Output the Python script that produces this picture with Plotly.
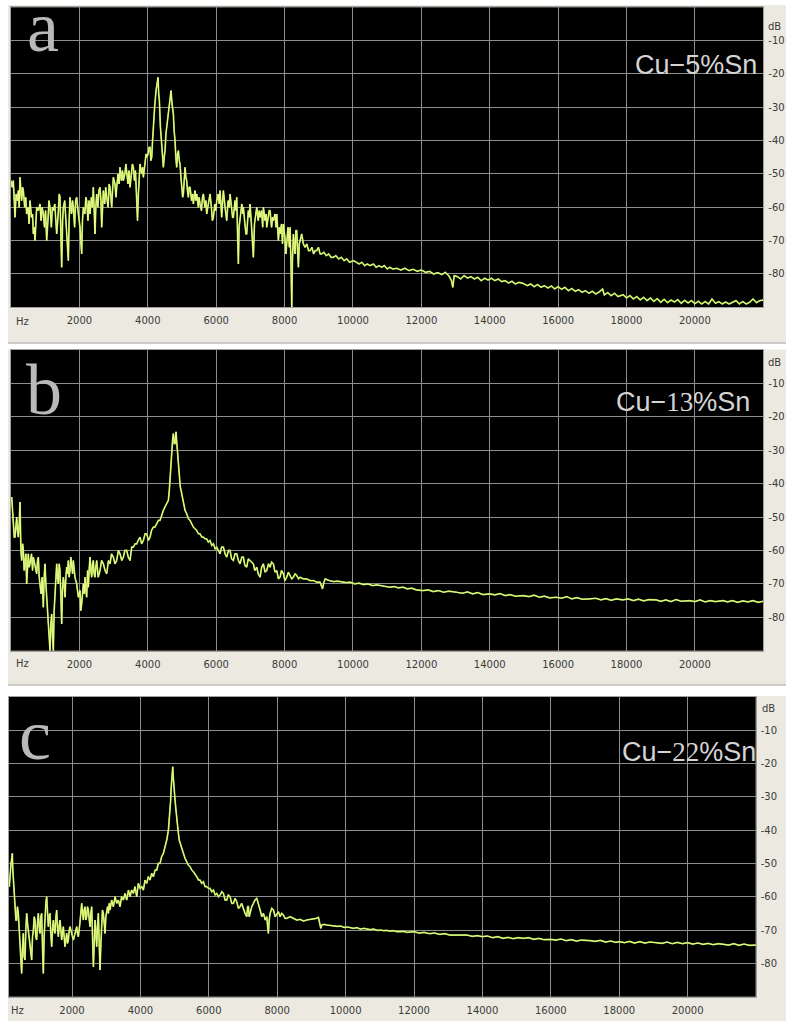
import plotly.graph_objects as go

# ---------------- data ----------------
# (frequency Hz, level dB) pairs for each spectrum
spec_a = [
(0,-52),(35,-54),(68,-52),(95,-57),(117,-63),(150,-56),(190,-58),(215,-55),(240,-60),(263,-51),
(290,-56),(312,-58),(340,-54),(361,-55),(400,-60),(430,-57),(458,-62),(500,-60),(530,-65),(556,-58),
(600,-63),(630,-62),(653,-68),(680,-66),(702,-70),(730,-63),(751,-60),(800,-61),(848,-59),(880,-64),
(910,-60),(946,-62),(980,-66),(1010,-61),(1043,-70),(1080,-64),(1110,-58),(1141,-60),(1180,-66),(1210,-60),
(1238,-61),(1280,-59),(1310,-64),(1336,-68),(1380,-62),(1410,-56),(1433,-57),(1460,-66),(1482,-78),(1510,-64),
(1531,-60),(1570,-58),(1600,-63),(1628,-68),(1650,-72),(1677,-76),(1700,-64),(1726,-57),(1770,-62),(1800,-58),
(1823,-60),(1860,-66),(1890,-58),(1921,-57),(1960,-61),(1990,-63),(2018,-66),(2040,-70),(2067,-74),(2090,-64),
(2116,-60),(2160,-62),(2190,-57),(2213,-58),(2250,-64),(2280,-58),(2311,-62),(2350,-57),(2380,-60),(2408,-54),
(2430,-62),(2457,-68),(2480,-60),(2506,-56),(2540,-60),(2570,-55),(2603,-54),(2630,-58),(2652,-66),(2680,-58),
(2701,-55),(2740,-59),(2770,-54),(2798,-57),(2840,-60),(2870,-53),(2896,-54),(2920,-57),(2945,-60),(2970,-55),
(2993,-51),(3040,-53),(3070,-57),(3091,-54),(3130,-50),(3160,-53),(3188,-48),(3230,-52),(3260,-49),(3286,-52),
(3330,-50),(3360,-47),(3383,-49),(3420,-53),(3450,-49),(3481,-54),(3520,-50),(3550,-47),(3578,-48),(3610,-52),
(3640,-49),(3676,-58),(3700,-64),(3725,-56),(3750,-49),(3773,-47),(3820,-50),(3850,-48),(3871,-51),(3920,-47),
(3950,-44),(3968,-45),(4010,-44),(4040,-42),(4066,-42),(4090,-46),(4115,-45),(4140,-40),(4163,-35),(4200,-30),
(4241,-25),(4270,-23),(4300,-21),(4320,-26),(4339,-28),(4370,-36),(4407,-42),(4430,-47),(4456,-48),(4480,-45),
(4505,-43),(4530,-38),(4553,-36),(4590,-33),(4631,-31),(4660,-27),(4680,-25),(4710,-29),(4748,-32),(4770,-37),
(4797,-40),(4820,-45),(4846,-48),(4870,-44),(4895,-43),(4920,-46),(4943,-47),(4970,-51),(4992,-54),(5020,-57),
(5041,-56),(5070,-50),(5090,-48),(5115,-51),(5138,-52),(5160,-55),(5187,-57),(5210,-54),(5236,-54),(5280,-58),
(5310,-56),(5333,-59),(5380,-55),(5410,-58),(5431,-56),(5480,-60),(5500,-57),(5528,-59),(5570,-61),(5600,-57),
(5626,-56),(5670,-60),(5700,-58),(5723,-62),(5770,-59),(5800,-57),(5821,-56),(5860,-60),(5890,-64),(5918,-63),
(5960,-59),(5990,-61),(6016,-58),(6060,-56),(6090,-59),(6113,-55),(6140,-60),(6162,-63),(6190,-58),(6211,-55),
(6260,-60),(6290,-62),(6308,-64),(6350,-58),(6380,-60),(6406,-56),(6450,-61),(6480,-63),(6503,-63),(6550,-58),
(6580,-61),(6601,-57),(6630,-70),(6650,-77),(6670,-66),(6698,-63),(6750,-59),(6780,-62),(6796,-60),(6840,-65),
(6870,-68),(6893,-68),(6940,-61),(6970,-63),(6991,-59),(7030,-65),(7060,-72),(7088,-75),(7120,-65),(7160,-61),
(7186,-60),(7230,-64),(7260,-61),(7283,-63),(7330,-61),(7360,-66),(7381,-60),(7430,-64),(7460,-62),(7478,-66),
(7520,-63),(7550,-61),(7576,-61),(7620,-66),(7650,-63),(7673,-64),(7720,-62),(7750,-66),(7771,-62),(7820,-70),
(7850,-66),(7868,-68),(7910,-65),(7940,-71),(7966,-65),(8010,-69),(8040,-74),(8063,-70),(8100,-66),(8140,-72),
(8161,-66),(8190,-78),(8210,-90),(8230,-76),(8258,-68),(8280,-71),(8307,-74),(8330,-67),(8356,-67),(8380,-73),
(8405,-78),(8430,-71),(8453,-70),(8480,-69),(8502,-68),(8550,-71),(8600,-72),(8650,-71),(8700,-73),(8746,-73),
(8800,-72),(8850,-74),(8892,-73),(8940,-73),(8990,-72),(9040,-74),(9087,-74),(9150,-73.5),(9220,-74.5),(9290,-74),
(9360,-75),(9428,-75),(9500,-74.5),(9580,-75.5),(9660,-75),(9740,-76),(9820,-75.5),(9900,-76.5),(10013,-76),(10100,-76.5),
(10180,-77),(10260,-76.5),(10340,-77.5),(10420,-77),(10500,-77.5),(10598,-77),(10680,-78),(10760,-77.5),(10840,-78),(10920,-77.5),
(11000,-78.5),(11080,-78),(11160,-78.5),(11281,-78.3),(11400,-78.8),(11520,-78.3),(11640,-79),(11760,-78.6),(11880,-79.2),(12000,-78.8),
(12120,-79.5),(12240,-79.2),(12360,-80),(12480,-79.6),(12600,-80.2),(12700,-79.5),(12800,-80.5),(12880,-82),(12920,-84),(12960,-80.5),
(13050,-80.8),(13150,-81.5),(13250,-80.5),(13350,-81.2),(13450,-80.8),(13550,-81.5),(13650,-81),(13750,-82),(13850,-81.3),(13950,-81.8),
(14050,-81.3),(14150,-82),(14250,-81.5),(14350,-82.3),(14450,-82),(14550,-82.7),(14650,-82.2),(14750,-83),(14850,-82.5),(14970,-82.8),
(15100,-83.5),(15200,-83),(15300,-83.8),(15400,-83.2),(15500,-84),(15600,-83.5),(15700,-84.2),(15800,-83.6),(15900,-84.5),(16000,-83.8),
(16100,-84.6),(16200,-84),(16300,-85),(16400,-84.4),(16500,-85.2),(16600,-84.7),(16700,-85.5),(16800,-85),(16900,-85.8),(17000,-85.2),
(17100,-86),(17200,-85.4),(17300,-84.5),(17350,-86.3),(17450,-85.6),(17550,-86.5),(17650,-85.8),(17750,-86.8),(17900,-86.2),(18000,-87.2),
(18100,-86.5),(18200,-87.5),(18300,-86.8),(18400,-87.8),(18500,-87),(18600,-88),(18700,-87.2),(18800,-88.2),(18900,-87.4),(19000,-88.5),
(19100,-87.6),(19200,-88.6),(19300,-87.8),(19400,-88.4),(19500,-87.7),(19600,-88.8),(19700,-87.9),(19800,-88.7),(19900,-88),(20000,-88.9),
(20100,-88.2),(20200,-89),(20300,-88.3),(20400,-89),(20500,-87.5),(20600,-88.8),(20700,-88.3),(20800,-89),(20900,-88.4),(21000,-89),
(21100,-88.5),(21200,-88),(21300,-89),(21400,-88.3),(21500,-89),(21600,-88.5),(21700,-87.5),(21800,-88.6),(21900,-88),(22000,-87.8),
]

spec_b = [
(20,-44),(45,-49),(68,-50),(95,-56),(117,-56),(140,-52),(166,-50),(190,-54),(215,-56),(240,-52),
(263,-45.5),(290,-60),(312,-63),(340,-58),(361,-60),(385,-66),(410,-64),(435,-61),(458,-70),(480,-66),
(507,-61),(530,-65),(556,-64),(600,-61),(630,-66),(653,-62),(700,-65),(751,-67),(775,-63),(800,-62),
(825,-68),(848,-70),(880,-73),(910,-68),(946,-77),(970,-68),(995,-64),(1020,-70),(1043,-74),(1070,-80),
(1092,-84),(1115,-88),(1141,-90),(1165,-82),(1190,-79),(1215,-86),(1238,-90),(1262,-78),(1287,-72),(1310,-66),
(1336,-64),(1360,-68),(1385,-70),(1410,-64),(1433,-66),(1460,-74),(1482,-82),(1505,-72),(1531,-68),(1555,-70),
(1580,-74),(1605,-68),(1628,-65),(1650,-67),(1677,-63),(1700,-68),(1726,-66),(1750,-62),(1775,-64),(1800,-67),
(1823,-63),(1870,-68),(1921,-70),(1970,-74),(2018,-72),(2040,-78),(2067,-76),(2090,-72),(2116,-70),(2140,-73),
(2165,-68),(2190,-72),(2213,-74),(2240,-66),(2262,-71),(2290,-65),(2311,-62),(2335,-66),(2360,-68),(2385,-64),
(2408,-63),(2430,-67),(2457,-68),(2480,-65),(2506,-63),(2550,-68),(2603,-66),(2650,-63),(2701,-64),(2750,-66),
(2798,-67),(2850,-63),(2896,-64),(2940,-61),(2993,-62),(3040,-64),(3091,-63),(3140,-60),(3188,-61),(3240,-63),
(3286,-62),(3330,-60),(3383,-60),(3430,-62),(3481,-63),(3530,-59),(3578,-59),(3630,-58),(3676,-58),(3720,-57),
(3773,-56),(3820,-58),(3871,-57),(3920,-55),(3968,-55),(4020,-57),(4066,-56),(4110,-54),(4163,-53),(4210,-53),
(4261,-52),(4310,-51),(4358,-51),(4410,-49),(4456,-48),(4500,-47),(4553,-46),(4602,-45),(4630,-42),(4651,-38),
(4680,-33),(4700,-32),(4725,-27),(4748,-25),(4775,-28),(4797,-28),(4815,-25),(4826,-24.5),(4850,-28),(4875,-32),
(4900,-36),(4924,-38),(4950,-41),(4973,-42),(5041,-46),(5090,-48),(5138,-49),(5190,-50.5),(5236,-51),(5280,-52),
(5333,-53),(5380,-53.5),(5431,-54),(5480,-55),(5528,-55),(5580,-56),(5626,-56),(5670,-56.5),(5723,-56.5),(5770,-57.5),
(5821,-57),(5870,-58.5),(5918,-58),(5970,-59.5),(6016,-59),(6060,-60),(6113,-61),(6160,-59),(6211,-59),(6260,-61),
(6308,-62),(6360,-60),(6406,-60),(6450,-62.5),(6503,-63),(6550,-61),(6601,-61),(6650,-63),(6698,-64),(6750,-62),
(6796,-62),(6840,-64.5),(6893,-65),(6940,-62.5),(6991,-63),(7040,-63.5),(7088,-64),(7130,-66),(7186,-65),(7230,-67),
(7283,-68),(7330,-65),(7381,-64),(7430,-66.5),(7478,-66),(7530,-64),(7576,-65),(7620,-63.5),(7673,-64),(7720,-66.5),
(7771,-66),(7820,-68.5),(7868,-68),(7910,-66),(7966,-67),(8010,-69),(8063,-68),(8110,-66.5),(8161,-67.5),(8210,-68.5),
(8258,-68),(8310,-67),(8356,-67.5),(8410,-68.5),(8453,-68),(8550,-68.5),(8650,-68.5),(8746,-69),(8850,-69),(8940,-69.5),
(9040,-69.5),(9080,-70.5),(9110,-71.5),(9150,-69.5),(9190,-68.5),(9300,-69),(9430,-69.3),(9550,-69.2),(9680,-69.5),(9800,-69.6),
(9920,-69.5),(10050,-70),(10180,-69.8),(10310,-70.2),(10440,-70),(10570,-70.5),(10700,-70.3),(10830,-70.6),(10960,-70.8),(11080,-71),
(11200,-70.8),(11330,-71.2),(11460,-71),(11590,-71.5),(11720,-71.3),(11850,-71.8),(12050,-72),(12200,-71.8),(12350,-72.3),(12500,-72),
(12650,-72.5),(12800,-72.2),(13030,-72.5),(13200,-72.8),(13350,-72.4),(13500,-73),(13650,-72.6),(13800,-73.2),(14000,-73),(14150,-73.3),
(14300,-72.9),(14450,-73.5),(14600,-73.2),(14750,-73.7),(14970,-73.5),(15150,-73.8),(15300,-73.4),(15450,-74),(15600,-73.7),(15750,-74.2),
(15940,-74),(16100,-74.3),(16250,-73.8),(16400,-74.5),(16550,-74.1),(16700,-74.6),(16920,-74.5),(17100,-74.3),(17250,-74.8),(17400,-74.4),
(17550,-74.9),(17700,-74.5),(17890,-74.8),(18050,-74.5),(18200,-75),(18350,-74.6),(18500,-75.1),(18650,-74.7),(18870,-74.8),(19000,-75.2),
(19150,-74.8),(19300,-75.3),(19450,-74.7),(19600,-75.2),(19840,-75),(20000,-75.3),(20150,-74.8),(20300,-75.4),(20450,-75),(20600,-75.3),
(20820,-75),(20950,-75.4),(21100,-75),(21250,-75.5),(21400,-75.1),(21550,-75.4),(21700,-75),(21850,-75.5),(22000,-75.2),
]

spec_c = [
(168,-57),(190,-53),(216,-50),(235,-49),(255,-47),(270,-52),(285,-55),(310,-60),(333,-63),(360,-67),
(382,-67),(405,-63),(431,-65),(455,-70),(480,-75),(505,-80),(528,-83),(550,-76),(577,-71),(600,-78),
(626,-79),(650,-70),(675,-65),(700,-68),(723,-70),(750,-74),(772,-75),(800,-78),(821,-79),(845,-72),
(870,-70),(895,-66),(918,-67),(940,-72),(967,-73),(990,-68),(1016,-65),(1040,-69),(1065,-71),(1090,-66),
(1113,-65),(1140,-76),(1162,-83),(1185,-72),(1211,-65),(1235,-62),(1260,-60),(1285,-66),(1308,-69),(1330,-66),
(1357,-65),(1380,-71),(1406,-75),(1430,-70),(1455,-67),(1480,-70),(1503,-71),(1530,-66),(1552,-64),(1575,-69),
(1601,-72),(1625,-69),(1650,-67),(1675,-70),(1698,-73),(1720,-71),(1747,-69),(1770,-72),(1796,-75),(1820,-73),
(1845,-71),(1870,-74),(1893,-73),(1920,-70),(1942,-69),(1990,-71),(2040,-73),(2090,-71),(2137,-69),(2160,-71),
(2186,-72),(2230,-68),(2260,-64),(2284,-62),(2310,-65),(2332,-67),(2355,-64),(2381,-63),(2405,-67),(2430,-66),
(2455,-63),(2479,-64),(2505,-67),(2527,-69),(2550,-65),(2576,-63),(2600,-72),(2625,-81),(2650,-74),(2674,-67),
(2700,-71),(2722,-75),(2745,-69),(2771,-65),(2795,-74),(2820,-82),(2845,-74),(2869,-67),(2890,-64),(2917,-65),
(2940,-68),(2966,-71),(2990,-66),(3015,-64),(3040,-63),(3064,-65),(3090,-62),(3112,-64),(3160,-61),(3210,-63),
(3260,-60),(3307,-62),(3355,-61),(3405,-63),(3450,-60),(3502,-61),(3550,-59),(3600,-61),(3650,-58),(3697,-60),
(3745,-58),(3795,-59),(3840,-57),(3892,-60),(3940,-56),(3990,-57.5),(4040,-57),(4087,-58),(4135,-55),(4185,-56),
(4230,-54),(4282,-55),(4330,-53),(4380,-54),(4430,-52),(4477,-52),(4525,-50),(4575,-50),(4620,-48),(4672,-47),
(4720,-45),(4770,-43),(4819,-40),(4845,-37),(4867,-35),(4885,-31),(4896,-28),(4920,-24),(4945,-21),(4960,-24),
(4975,-27),(4995,-29),(5013,-31),(5040,-34),(5062,-37),(5085,-39),(5111,-41),(5135,-43),(5160,-44),(5210,-46),
(5257,-47),(5305,-48.5),(5355,-49.5),(5400,-50.5),(5452,-51),(5500,-52),(5550,-52.5),(5600,-53.5),(5647,-54),(5700,-55),
(5745,-55),(5790,-56),(5842,-55.5),(5890,-57),(5940,-57),(5990,-57.5),(6037,-57.5),(6085,-58.5),(6135,-58),(6185,-59.5),
(6232,-59),(6280,-60),(6330,-59.5),(6380,-58.5),(6427,-59),(6475,-61),(6525,-61),(6570,-59.5),(6622,-60),(6670,-62),
(6720,-62),(6770,-60.5),(6817,-61.5),(6865,-63.5),(6915,-63),(6960,-62),(7012,-64),(7060,-65),(7110,-66),(7135,-63),
(7158,-63),(7180,-66),(7207,-65),(7255,-63),(7305,-62),(7350,-61),(7402,-60.5),(7450,-62),(7500,-64),(7550,-66),
(7597,-65),(7650,-67),(7695,-66),(7720,-69),(7743,-71),(7765,-67),(7792,-65),(7840,-63.5),(7890,-64),(7940,-66),
(7987,-65),(8035,-64.5),(8085,-66),(8130,-65),(8182,-65.5),(8230,-66.5),(8280,-66.5),(8380,-66),(8475,-66.5),(8570,-67),
(8670,-66.8),(8770,-67.3),(8865,-67),(8960,-66.8),(9060,-66.8),(9140,-66.5),(9206,-66.2),(9240,-67.5),(9274,-69.5),(9300,-68.5),
(9370,-68.3),(9450,-68.5),(9550,-68.7),(9645,-68.8),(9750,-68.9),(9850,-68.8),(9950,-69.2),(10050,-69.1),(10132,-69.2),(10230,-69.5),
(10330,-69.3),(10430,-69.7),(10530,-69.5),(10620,-69.8),(10720,-69.9),(10820,-69.7),(10920,-70.1),(11020,-70),(11107,-70.2),(11200,-70.1),
(11300,-70.3),(11400,-70.2),(11500,-70.5),(11595,-70.5),(11700,-70.4),(11800,-70.7),(12000,-70.5),(12150,-70.9),(12300,-70.7),(12450,-71.1),
(12600,-70.9),(12750,-71.3),(12900,-71.1),(13050,-71.5),(13250,-71.5),(13400,-71.7),(13550,-71.5),(13700,-71.9),(13850,-71.7),(14000,-72),
(14150,-71.8),(14300,-72.3),(14450,-72),(14600,-72.5),(14750,-72.2),(14900,-72.6),(15050,-72.3),(15200,-72.5),(15350,-72.3),(15500,-72.8),
(15650,-72.5),(15800,-72.9),(16000,-72.8),(16150,-73),(16300,-72.7),(16450,-73.2),(16600,-72.9),(16750,-73.3),(16900,-73),(17150,-73.2),
(17300,-73.4),(17450,-73.1),(17600,-73.6),(17750,-73.3),(17900,-73.7),(18000,-73.5),(18150,-73.8),(18300,-73.4),(18450,-73.9),(18600,-73.5),
(18750,-73.9),(18900,-73.6),(19100,-73.7),(19250,-74),(19400,-73.6),(19550,-74.1),(19700,-73.7),(19850,-74.1),(20000,-73.8),(20150,-74.2),
(20300,-73.9),(20450,-74.3),(20600,-74),(20750,-74.4),(20900,-74.1),(21050,-74.2),(21200,-74.5),(21350,-74.1),(21500,-74.6),(21650,-74.2),
(21800,-74.6),(22000,-74.5),
]

freq_a = [p[0] for p in spec_a]; db_a = [p[1] for p in spec_a]
freq_b = [p[0] for p in spec_b]; db_b = [p[1] for p in spec_b]
freq_c = [p[0] for p in spec_c]; db_c = [p[1] for p in spec_c]

x_ticks = [2000, 4000, 6000, 8000, 10000, 12000, 14000, 16000, 18000, 20000]
x_tick_labels = [str(v) for v in x_ticks]
y_ticks = [-10, -20, -30, -40, -50, -60, -70, -80]
y_tick_labels = ["-10", "-20", "-30", "-40", "-50", "-60", "-70", "-80"]
panel_letters = ["a", "b", "c"]
alloy_labels = [
    "Cu−5%Sn",
    "Cu−<span style='font-family:Liberation Serif'>13</span>%Sn",
    "Cu−<span style='font-family:Liberation Serif'>22</span>%Sn",
]
x_ranges = [[0, 22000], [0, 22000], [158, 21990]]
y_range = [-90, 0]

# ---------------- layout geometry (pixels) ----------------
W, H = 786, 1021
def PX(x): return x / W
def PY(y): return 1 - y / H

# (left, right, top, bottom) of each black plot area
boxes = [(11, 763.3, 7.3, 307.3), (11, 763.3, 350, 650.7), (9, 755.7, 696.7, 996.7)]

BEIGE = "#ECEAE0"
GRID = "#8E8E8E"
TXT = "#3A3A3A"
YEL = "#F5F78E"
GRN = "#96DC46"

fig = go.Figure()
specs = [(freq_a, db_a), (freq_b, db_b), (freq_c, db_c)]
for i, (fx, fy) in enumerate(specs):
    sfx = "" if i == 0 else str(i + 1)
    fig.add_trace(go.Scatter(x=fx, y=fy, mode="lines", xaxis="x" + sfx, yaxis="y" + sfx,
                             line=dict(color=GRN, width=1.7), hoverinfo="skip", showlegend=False))
    fig.add_trace(go.Scatter(x=fx, y=fy, mode="lines", xaxis="x" + sfx, yaxis="y" + sfx,
                             line=dict(color=YEL, width=1.0), hoverinfo="skip", showlegend=False))

layout = dict(
    width=W, height=H, margin=dict(l=0, r=0, t=0, b=0),
    paper_bgcolor=BEIGE, plot_bgcolor="black", showlegend=False,
)
tickfont = dict(family="DejaVu Sans", size=10, color=TXT)
for i, (l, r, t, b) in enumerate(boxes):
    sfx = "" if i == 0 else str(i + 1)
    layout["xaxis" + sfx] = dict(
        domain=[PX(l), PX(r)], range=x_ranges[i], anchor="y" + sfx,
        tickmode="array", tickvals=x_ticks, ticktext=x_tick_labels,
        showgrid=True, gridcolor=GRID, gridwidth=1, zeroline=False,
        showline=True, linecolor="#A0A0A0", linewidth=1, mirror=True,
        ticks="", tickfont=tickfont, ticklabelstandoff=4, fixedrange=True,
    )
    layout["yaxis" + sfx] = dict(
        domain=[PY(b), PY(t)], range=y_range, anchor="x" + sfx, side="right",
        tickmode="array", tickvals=y_ticks, ticktext=y_tick_labels,
        showgrid=True, gridcolor=GRID, gridwidth=1, zeroline=False,
        showline=True, linecolor="#A0A0A0", linewidth=1, mirror=True,
        ticks="", tickfont=tickfont, ticklabelstandoff=2, fixedrange=True,
    )
fig.update_layout(**layout)

# white separators / borders and thin gray lines
shapes = []
def rect(x0, y0, x1, y1, color):
    shapes.append(dict(type="rect", xref="paper", yref="paper", x0=PX(x0), x1=PX(x1),
                       y0=PY(y1), y1=PY(y0), fillcolor=color, line=dict(width=0), layer="below"))
rect(0, 0, W, 5, "white")
rect(0, 0, 8, H, "white")
rect(8, 343.5, W, 349.5, "white")
rect(8, 685.5, W, 696, "white")
rect(8, 342.5, W, 343.5, "#A8A8A8")
rect(8, 684.5, W, 685.5, "#A8A8A8")
fig.update_layout(shapes=shapes)

ann = []
# panel letters
letter_pos = [(43, 27), (43.5, 390), (35, 735)]
for (x, y), s in zip(letter_pos, panel_letters):
    ann.append(dict(text=s, x=PX(x), y=PY(y), xref="paper", yref="paper", xanchor="center",
                    yanchor="middle", showarrow=False,
                    font=dict(family="Liberation Serif", size=72, color="#B9B9B9")))
# alloy labels
alloy_pos = [(759, 65), (752, 402), (758, 752)]
for (x, y), s in zip(alloy_pos, alloy_labels):
    ann.append(dict(text=s, x=PX(x), y=PY(y), xref="paper", yref="paper", xanchor="right",
                    yanchor="middle", showarrow=False,
                    font=dict(family="Liberation Sans", size=27, color="#D4D4D4")))
# Hz and dB unit labels
for (x, y) in [(22, 321), (22, 663), (17, 1010)]:
    ann.append(dict(text="Hz", x=PX(x), y=PY(y), xref="paper", yref="paper", xanchor="center",
                    yanchor="middle", showarrow=False, font=tickfont))
for (x, y) in [(766, 26), (766, 362), (760, 708)]:
    ann.append(dict(text="dB", x=PX(x), y=PY(y), xref="paper", yref="paper", xanchor="left",
                    yanchor="middle", showarrow=False, font=tickfont))
fig.update_layout(annotations=ann)

fig.write_html(
    "out.html",
    config={"displayModeBar": False, "staticPlot": True},
    post_script="document.body.style.margin='0px';document.body.style.overflow='hidden';",
)
